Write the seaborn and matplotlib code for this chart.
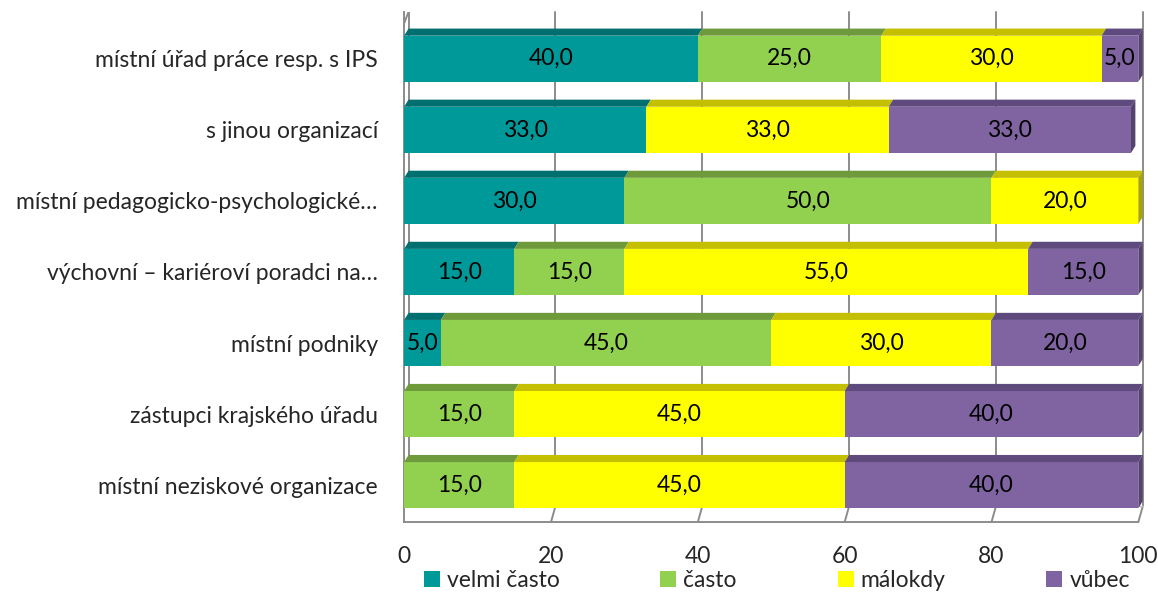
import numpy as np
import pandas as pd
import matplotlib
matplotlib.use("Agg")
import matplotlib.pyplot as plt
import seaborn as sns
from matplotlib.patches import Polygon

# Data (percent)
categories = [
    "místní úřad práce resp. s IPS",
    "s jinou organizací",
    "místní pedagogicko-psychologické…",
    "výchovní – kariéroví poradci na…",
    "místní podniky",
    "zástupci krajského úřadu",
    "místní neziskové organizace",
]
series_names = ["velmi často", "často", "málokdy", "vůbec"]
velmi_casto = [40, 33, 30, 15, 5, 0, 0]
casto = [25, 0, 50, 15, 45, 15, 15]
malokdy = [30, 33, 20, 55, 30, 45, 45]
vubec = [5, 33, 0, 15, 20, 40, 40]
x_ticks = [0, 20, 40, 60, 80, 100]

front_colors = ["#009999", "#92D050", "#FFFF00", "#8064A2"]
top_colors = ["#006F6F", "#6F9A3C", "#C4BF00", "#5F4A7E"]
side_colors = ["#006060", "#5F8534", "#A8A400", "#54426F"]

values = np.array([velmi_casto, casto, malokdy, vubec], dtype=float)
cum = np.cumsum(values, axis=0)

df = pd.DataFrame({"category": categories})
for i, name in enumerate(series_names):
    df[name] = cum[i]

sns.set_style("white")
plt.rcParams["font.family"] = ["Lato", "DejaVu Sans"]
FS = 16.5

fig = plt.figure(figsize=(11.58, 5.94), dpi=100)
ax = fig.add_axes([0.349, 0.121, 0.634, 0.859])

BAR_H = 0.65
# stacked bars: draw cumulative totals from the largest down
for i in reversed(range(4)):
    sns.barplot(data=df, y="category", x=series_names[i], orient="h",
                color=front_colors[i], width=BAR_H, saturation=1,
                ax=ax, zorder=3, linewidth=0)

ax.set_xlim(0, 100)
ax.set_ylim(6.52, -0.66)

# pseudo 3D: top faces and right end face
dx, dy = 0.6, 0.1
for r in range(len(categories)):
    top = r - BAR_H / 2
    bottom = r + BAR_H / 2
    last = None
    for i in range(4):
        v = values[i, r]
        if v <= 0:
            continue
        left = cum[i, r] - v
        right = cum[i, r]
        ax.add_patch(Polygon([(left, top), (right, top), (right + dx, top - dy), (left + dx, top - dy)],
                             closed=True, facecolor=top_colors[i], edgecolor="none", zorder=4,
                             clip_on=False))
        last = i
    if last is not None:
        right = cum[last, r]
        ax.add_patch(Polygon([(right, top), (right + dx, top - dy), (right + dx, bottom - dy), (right, bottom)],
                             closed=True, facecolor=side_colors[last], edgecolor="none", zorder=4,
                             clip_on=False))
    # value labels
    for i in range(4):
        v = values[i, r]
        if v <= 0:
            continue
        ax.text(cum[i, r] - v / 2, r, f"{v:.1f}".replace(".", ","), ha="center", va="center",
                fontsize=FS, color="black", zorder=6)

# grid / walls
for t in x_ticks[1:]:
    ax.plot([t + dx, t + dx], [6.3, -0.66], color="#8C8C8C", lw=1.4, zorder=1, clip_on=False)
    ax.plot([t, t + dx], [6.52, 6.3], color="#8C8C8C", lw=1.4, zorder=1, clip_on=False)
ax.plot([dx, dx], [6.3, -0.66], color="#8C8C8C", lw=1.4, zorder=1)
ax.plot([0, dx], [-0.5, -0.66], color="#8C8C8C", lw=1.4, zorder=1)
ax.plot([dx, 100 + dx], [6.3, 6.3], color="#BFBFBF", lw=1.0, zorder=1, clip_on=False)

for s in ["top", "right"]:
    ax.spines[s].set_visible(False)
ax.spines["left"].set_color("#8C8C8C")
ax.spines["bottom"].set_color("#8C8C8C")
ax.spines["left"].set_linewidth(1.4)
ax.spines["bottom"].set_linewidth(1.4)

ax.set_xticks(x_ticks)
ax.set_xticklabels([str(t) for t in x_ticks])
ax.tick_params(axis="x", length=0, pad=17, labelsize=FS)
ax.tick_params(axis="y", length=0, pad=19, labelsize=FS)
ax.set_xlabel("")
ax.set_ylabel("")

handles = [plt.Rectangle((0, 0), 1, 1, facecolor=c, edgecolor="none") for c in front_colors]
fig.legend(handles, series_names, loc="center left", bbox_to_anchor=(0.366, 0.022), ncol=4,
           frameon=False, fontsize=FS, handlelength=0.7, handleheight=0.7, handletextpad=0.3,
           columnspacing=4.4, borderpad=0, borderaxespad=0)

fig.savefig("out.png", dpi=100)
